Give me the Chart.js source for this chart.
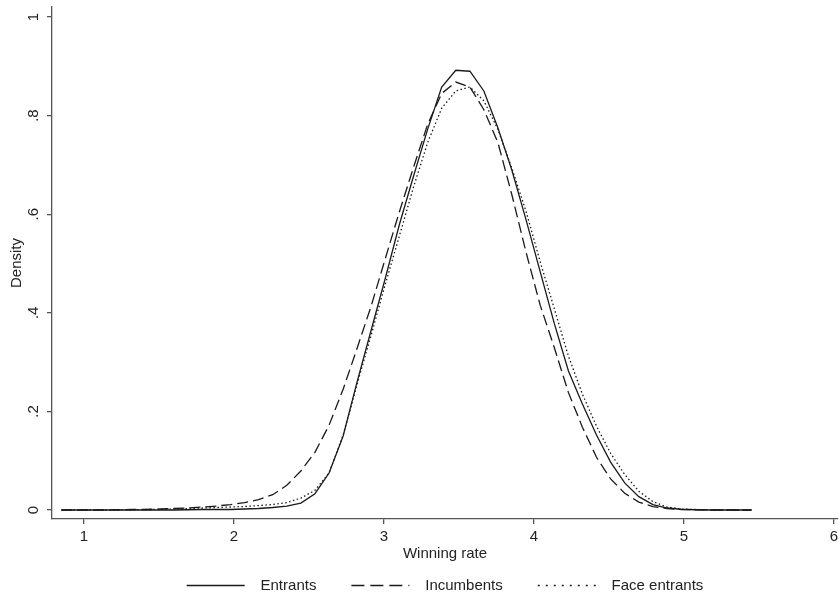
<!DOCTYPE html>
<html>
<head>
<meta charset="utf-8">
<title>Winning rate density</title>
<script src="https://cdn.jsdelivr.net/npm/chart.js@4.4.1/dist/chart.umd.min.js"></script>
<style>
  html, body { margin: 0; padding: 0; background: #ffffff; }
</style>
</head>
<body>
<canvas id="densityChart" width="840" height="597"></canvas>
<script>
// kernel density evaluation points (winning rate)
const gridX = [0.850, 0.944, 1.038, 1.132, 1.226, 1.319, 1.413, 1.507, 1.601, 1.695,
               1.789, 1.883, 1.977, 2.070, 2.164, 2.258, 2.352, 2.446, 2.540, 2.634,
               2.728, 2.821, 2.915, 3.009, 3.103, 3.197, 3.291, 3.385, 3.479, 3.573,
               3.666, 3.760, 3.854, 3.948, 4.042, 4.136, 4.230, 4.323, 4.417, 4.511,
               4.605, 4.699, 4.793, 4.887, 4.981, 5.074, 5.168, 5.262, 5.356, 5.450];

const entrants = [0, 0, 0, 0, 0, 0, 0, 0, 0, 0.0005,
                  0.001, 0.001, 0.001, 0.002, 0.003, 0.005, 0.008, 0.014, 0.033, 0.075,
                  0.150, 0.260, 0.365, 0.470, 0.579, 0.677, 0.772, 0.858, 0.892, 0.890,
                  0.850, 0.775, 0.688, 0.588, 0.483, 0.378, 0.282, 0.215, 0.152, 0.097,
                  0.055, 0.027, 0.011, 0.004, 0.0015, 0.0005, 0, 0, 0, 0];

const incumbents = [0, 0, 0, 0, 0.0005, 0.001, 0.001, 0.002, 0.003, 0.004,
                    0.006, 0.008, 0.011, 0.015, 0.021, 0.031, 0.050, 0.079, 0.117, 0.172,
                    0.245, 0.328, 0.414, 0.510, 0.605, 0.695, 0.782, 0.845, 0.868, 0.858,
                    0.812, 0.745, 0.638, 0.522, 0.415, 0.329, 0.238, 0.168, 0.107, 0.063,
                    0.034, 0.016, 0.007, 0.003, 0.001, 0.0005, 0, 0, 0, 0];

const faceEntrants = [0, 0, 0, 0, 0, 0.0005, 0.001, 0.001, 0.002, 0.003,
                      0.004, 0.005, 0.006, 0.007, 0.009, 0.011, 0.015, 0.024, 0.040, 0.075,
                      0.152, 0.255, 0.355, 0.458, 0.556, 0.655, 0.745, 0.815, 0.850, 0.858,
                      0.830, 0.772, 0.692, 0.605, 0.503, 0.408, 0.312, 0.235, 0.170, 0.115,
                      0.072, 0.038, 0.017, 0.006, 0.002, 0.001, 0.0005, 0, 0, 0];

const xTicks = [1, 2, 3, 4, 5, 6];
const yTicks = [0, 0.2, 0.4, 0.6, 0.8, 1];
const yTickLabels = ['0', '.2', '.4', '.6', '.8', '1'];

const seriesLabels = ['Entrants', 'Incumbents', 'Face entrants'];
const plotDash = [[], [11, 5], [1.5, 2.5]];
const legendDash = [[], [13, 6], [2, 6]];

const ink = '#1a1a1a';
const axisColor = '#555555';
const font = { family: "'Liberation Sans', Arial, sans-serif", size: 15 };

function toPoints(ys) {
    return gridX.map((x, i) => ({ x: x, y: ys[i] }));
}

const datasets = [entrants, incumbents, faceEntrants].map((ys, i) => ({
    label: seriesLabels[i],
    data: toPoints(ys),
    borderColor: ink,
    backgroundColor: ink,
    borderWidth: 1.3,
    borderDash: plotDash[i],
    pointRadius: 0,
    tension: 0,
    fill: false
}));

const ctx = document.getElementById('densityChart').getContext('2d');
const chart = new Chart(ctx, {
    type: 'line',
    data: { datasets: datasets },
    options: {
        responsive: false,
        animation: false,
        layout: { padding: { top: 7, right: 2, left: 0, bottom: 0 } },
        scales: {
            x: {
                type: 'linear',
                min: 0.787,
                max: 6.027,
                afterBuildTicks: axis => { axis.ticks = xTicks.map(v => ({ value: v })); },
                afterFit: axis => { axis.height = 24; axis.paddingLeft = 0; axis.paddingRight = 0; },
                border: { display: true, color: axisColor, width: 1.3 },
                grid: { drawOnChartArea: false, drawTicks: true, tickLength: 5, color: axisColor, lineWidth: 1.3 },
                ticks: { color: '#222', font: font, padding: 4, maxRotation: 0, autoSkip: false },
                title: { display: true, text: 'Winning rate', color: '#222', font: font, padding: { top: 0, bottom: -20 } }
            },
            y: {
                min: -0.0183,
                max: 1.0203,
                afterBuildTicks: axis => { axis.ticks = yTicks.map(v => ({ value: v })); },
                // fixed axis width, no extra room for the rotated labels
                afterFit: axis => { axis.width = 52; axis.paddingTop = 0; axis.paddingBottom = 0; },
                border: { display: true, color: axisColor, width: 1.3 },
                grid: { drawOnChartArea: false, drawTicks: true, tickLength: 5, color: axisColor, lineWidth: 1.3 },
                ticks: {
                    color: '#222',
                    font: font,
                    padding: 7,
                    minRotation: 90,
                    maxRotation: 90,
                    crossAlign: 'center',
                    autoSkip: false,
                    callback: value => {
                        const idx = yTicks.findIndex(t => Math.abs(t - value) < 1e-9);
                        return idx >= 0 ? yTickLabels[idx] : '';
                    }
                },
                title: { display: true, text: 'Density', color: '#222', font: font, padding: { top: 8, bottom: 0 } }
            }
        },
        plugins: {
            legend: {
                position: 'bottom',
                fullSize: false,
                maxHeight: 54,
                labels: {
                    color: '#222',
                    font: font,
                    padding: 35,
                    usePointStyle: true,
                    pointStyle: 'line',
                    pointStyleWidth: 58,
                    generateLabels: c => {
                        const items = Chart.defaults.plugins.legend.labels.generateLabels(c);
                        items.forEach((item, i) => {
                            item.text = '  ' + item.text;
                            item.lineDash = legendDash[i];
                            item.lineWidth = 1.3;
                            item.strokeStyle = ink;
                        });
                        return items;
                    }
                }
            },
            tooltip: { enabled: false }
        }
    }
});
</script>
</body>
</html>
